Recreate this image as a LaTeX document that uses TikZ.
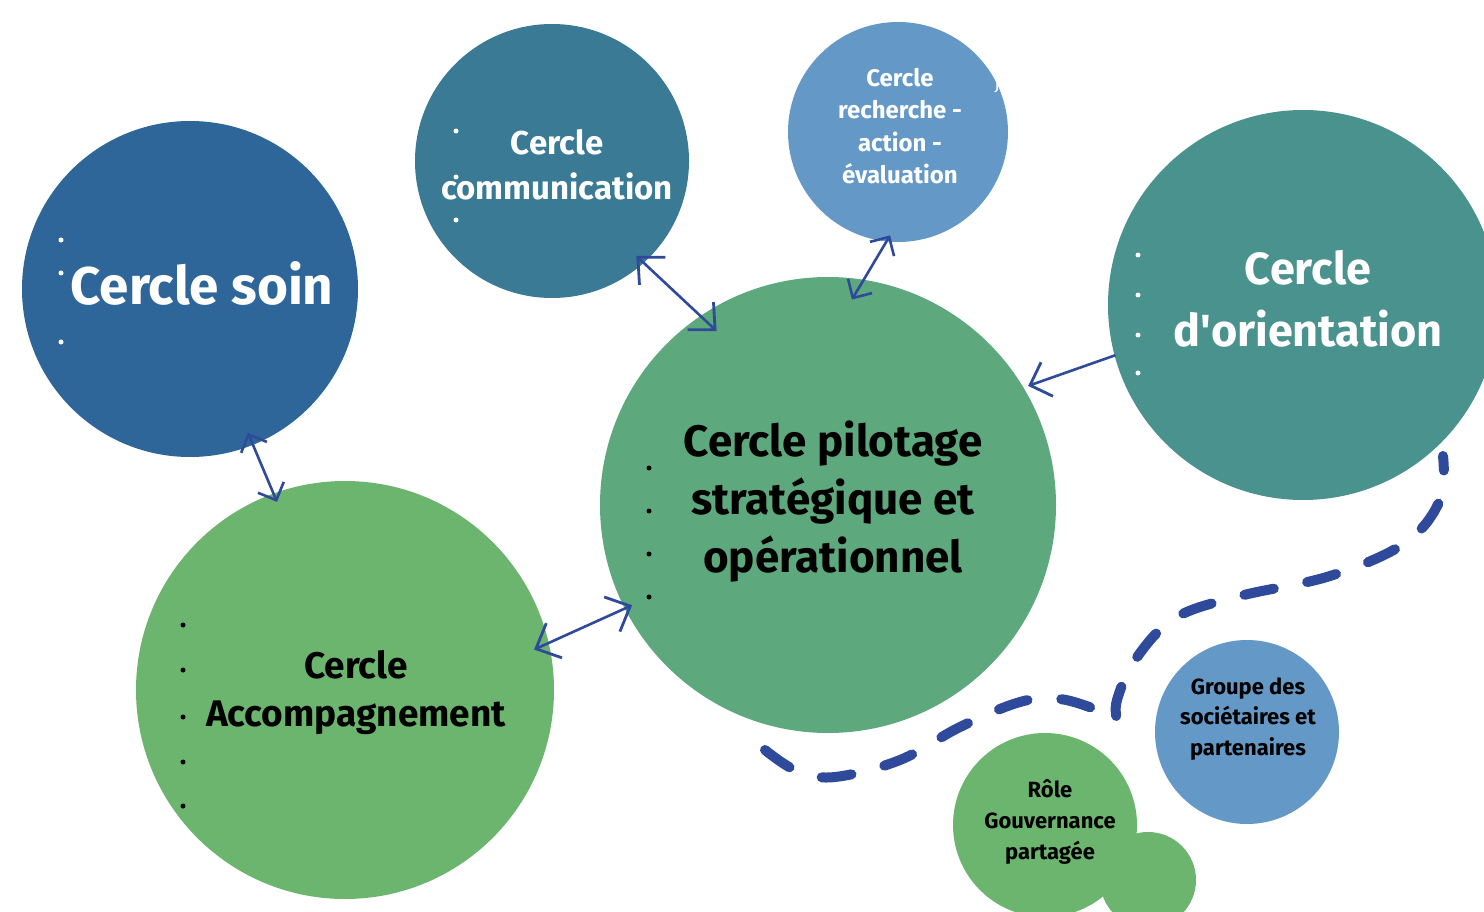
\documentclass[tikz,border=0pt]{standalone}
\usepackage{fontspec}
\setmainfont{Fira Sans}
\usetikzlibrary{arrows.meta}
\definecolor{csoin}{HTML}{2F6699}
\definecolor{ccomm}{HTML}{3A7A95}
\definecolor{crech}{HTML}{6498C6}
\definecolor{corient}{HTML}{4A928E}
\definecolor{cpil}{HTML}{5DA97D}
\definecolor{cacc}{HTML}{6CB56E}
\definecolor{cline}{HTML}{2F4A9B}
\begin{document}
\begin{tikzpicture}[x=1pt,y=-1pt,
  blob/.style={circle, inner sep=0pt, outer sep=0pt, draw=none},
  lbl/.style={align=center, inner sep=0pt},
  wdot/.style={circle, inner sep=0pt, minimum size=5pt, fill=white},
  bdot/.style={circle, inner sep=0pt, minimum size=5pt, fill=black},
  conn/.style={line width=2.6pt, draw=cline, line cap=round},
  tip/.style={arrows={Straight Barb[length=14pt,width=28pt,line width=2.6pt]-Straight Barb[length=14pt,width=28pt,line width=2.6pt]}},
  bigtip/.style={arrows={Straight Barb[length=20pt,width=38pt,line width=2.8pt]-Straight Barb[length=20pt,width=38pt,line width=2.8pt]}},
  onetip/.style={arrows={-Straight Barb[length=18pt,width=36pt,line width=2.8pt]}},
  dashline/.style={line width=10pt, draw=cline, line cap=round, dash pattern=on 30pt off 34pt}
]
\useasboundingbox (0,0) rectangle (1484,912);
\fill[white] (0,0) rectangle (1484,912);

% circles
\node[blob, fill=csoin, minimum size=336pt] (soin) at (190,289) {};
\node[blob, fill=ccomm, minimum size=274pt] (comm) at (552,161) {};
\node[blob, fill=crech, minimum size=220pt] (rech) at (898,132) {};
\node[blob, fill=corient, minimum size=390pt] (orient) at (1303,305) {};
\node[blob, fill=cpil, minimum size=456pt] (pil) at (828,505) {};
\node[blob, fill=cacc, minimum size=418pt] (acc) at (345,690) {};
\node[blob, fill=crech, minimum size=184pt] (grp) at (1247,732) {};
\node[blob, fill=cacc, minimum size=96pt] (small) at (1148,880) {};
\node[blob, fill=cacc, minimum size=184pt] (role) at (1045,825) {};

% texts
\node[lbl, text=white, font=\fontsize{53}{60}\selectfont\bfseries] (tsoin) at (202,283) {Cercle soin};
\node[lbl, text=white, font=\fontsize{33}{45}\selectfont\bfseries] (tcomm) at (557,165) {Cercle\\communication};
\node[lbl, text=white, font=\fontsize{24}{32.5}\selectfont\bfseries] (trech) at (900,126) {Cercle\\recherche -\\action -\\évaluation};
\node[lbl, text=white, font=\fontsize{18}{20}\selectfont] (tja) at (1002,86) {Ja};
\node[lbl, text=white, font=\fontsize{45}{62}\selectfont\bfseries] (torient) at (1308,299) {Cercle\\d\textquotesingle orientation};
\node[lbl, text=black, font=\fontsize{44}{58}\selectfont\bfseries] (tpil) at (833,502) {Cercle pilotage\\stratégique et\\opérationnel};
\node[lbl, text=black, font=\fontsize{37}{48}\selectfont\bfseries] (tacc) at (356,693) {Cercle\\Accompagnement};
\node[lbl, text=black, font=\fontsize{22}{30.5}\selectfont\bfseries] (tgrp) at (1248,719) {Groupe des\\sociétaires et\\partenaires};
\node[lbl, text=black, font=\fontsize{22}{31}\selectfont\bfseries] (trole) at (1050,822) {Rôle\\Gouvernance\\partagée};

% bullets
\node[wdot] (s1) at (61,240) {};
\node[wdot] (s2) at (61,273) {};
\node[wdot] (s3) at (61,342) {};
\node[wdot] (c1) at (456,131) {};
\node[wdot] (c2) at (456,177) {};
\node[wdot] (c3) at (456,220) {};
\node[wdot] (o1) at (1138,255) {};
\node[wdot] (o2) at (1138,295) {};
\node[wdot] (o3) at (1138,335) {};
\node[wdot] (o4) at (1138,373) {};
\node[bdot] (p1) at (649,468) {};
\node[bdot] (p2) at (649,511) {};
\node[bdot] (p3) at (649,554) {};
\node[bdot] (p4) at (649,597) {};
\node[bdot] (a1) at (183,625) {};
\node[bdot] (a2) at (183,670) {};
\node[bdot] (a3) at (183,717) {};
\node[bdot] (a4) at (183,762) {};
\node[bdot] (a5) at (183,806) {};

% connectors
\draw[conn, tip, shorten <=-13pt, shorten >=-9pt] (soin.-68.75) -- (acc.110.15);
\draw[conn, bigtip, shorten <=-10pt, shorten >=-22pt] (comm.-48.5) -- (pil.124.3);
\draw[conn, tip, shorten <=-7pt, shorten >=-23pt] (rech.-96.2) -- (pil.81);
\draw[conn, onetip, shorten <=0pt, shorten >=5pt] (orient.195.3) -- (pil.31.2);
\draw[conn, bigtip, shorten <=-16pt, shorten >=-8pt] (acc.13.2) -- (pil.207.6);

% dashed path
\draw[dashline] plot[smooth, tension=0.6] coordinates {(765,750) (797,771) (835,777) (900,760) (960,727) (1020,702) (1060,699) (1100,711) (1117,720)}
  -- plot[smooth, tension=0.6] coordinates {(1117,720) (1117,700) (1135,660) (1175,618) (1240,596) (1330,576) (1405,543) (1440,500) (1443,456)};
\end{tikzpicture}
\end{document}
